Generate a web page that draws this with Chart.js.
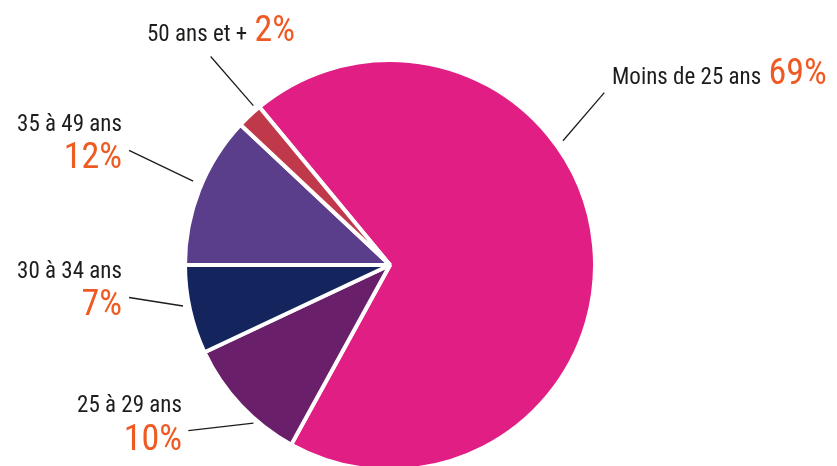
<!DOCTYPE html>
<html>
<head>
<meta charset="utf-8">
<script src="https://cdn.jsdelivr.net/npm/chart.js@4.4.1/dist/chart.umd.min.js"></script>
<style>
    html, body { margin: 0; padding: 0; background: #fff; overflow: hidden; }
    #wrap { position: relative; width: 837px; height: 466px; }
</style>
</head>
<body>
<div id="wrap"><canvas id="myChart"></canvas></div>
<script>
// data, in drawing order (clockwise from the start angle)
const categories = ['Moins de 25 ans', '25 à 29 ans', '30 à 34 ans', '35 à 49 ans', '50 ans et +'];
const shares = [69, 10, 7, 12, 2];
const sliceColors = ['#e01e84', '#6a1f6a', '#14245c', '#5a3e8c', '#c0394a'];

const FONT = '"Liberation Sans Narrow", "Arial Narrow", "Roboto Condensed", sans-serif';
const ORANGE = '#ef5a23';
const INK = '#1d1d1b';

// leader lines in polar form around the pie centre (deg from top, clockwise; px)
// and where each label sits; 'inline' puts the % on the same line
const labelLayout = [
    { line: [[54.3, 213], [51.2, 275]], inline: true,  x: 612, y: 84 },
    { line: [[-139.2, 209], [-129.4, 261]], inline: false, x: 182, y: 412, y2: 450 },
    { line: [[-101.2, 211], [-97.1, 263]], inline: false, x: 122, y: 278, y2: 315 },
    { line: [[-66.9, 214], [-66.3, 285]], inline: false, x: 122, y: 131, y2: 168 },
    { line: [[-40.6, 210], [-40.7, 275]], inline: true,  x: 147, y: 41 }
];

const pieLabels = {
    id: 'pieLabels',
    afterDraw(chart) {
        const ctx = chart.ctx;
        const arc = chart.getDatasetMeta(0).data[0];
        const cx = arc.x, cy = arc.y;
        const pt = (a, r) => {
            const rad = a * Math.PI / 180;
            return [cx + r * Math.sin(rad), cy - r * Math.cos(rad)];
        };
        ctx.save();
        labelLayout.forEach((l, i) => {
            const [p1, p2] = l.line.map(p => pt(p[0], p[1]));
            ctx.strokeStyle = '#1d1d1b';
            ctx.lineWidth = 1.3;
            ctx.beginPath();
            ctx.moveTo(p1[0], p1[1]);
            ctx.lineTo(p2[0], p2[1]);
            ctx.stroke();

            const pct = shares[i] + '%';
            ctx.textBaseline = 'alphabetic';
            if (l.inline) {
                ctx.textAlign = 'left';
                ctx.font = '23px ' + FONT;
                ctx.fillStyle = INK;
                ctx.fillText(categories[i], l.x, l.y);
                const w = ctx.measureText(categories[i] + ' ').width;
                ctx.font = '36px ' + FONT;
                ctx.fillStyle = ORANGE;
                ctx.fillText(pct, l.x + w + 2, l.y);
            } else {
                ctx.textAlign = 'right';
                ctx.font = '23px ' + FONT;
                ctx.fillStyle = INK;
                ctx.fillText(categories[i], l.x, l.y);
                ctx.font = '36px ' + FONT;
                ctx.fillStyle = ORANGE;
                ctx.fillText(pct, l.x, l.y2);
            }
        });
        ctx.restore();
    }
};

function renderChart() {
    const el = document.getElementById('myChart');
    window.myChart = new Chart(el, {
        type: 'pie',
        data: {
            labels: categories,
            datasets: [{
                data: shares,
                backgroundColor: sliceColors,
                borderColor: '#ffffff',
                borderWidth: 4
            }]
        },
        options: {
            responsive: true,
            maintainAspectRatio: false,
            animation: false,
            rotation: -39.6,
            radius: 205,
            layout: { padding: { left: 0, right: 57, top: 64, bottom: 0 } },
            plugins: {
                legend: { display: false },
                tooltip: { enabled: false }
            }
        },
        plugins: [pieLabels]
    });
}

renderChart();
</script>
</body>
</html>
